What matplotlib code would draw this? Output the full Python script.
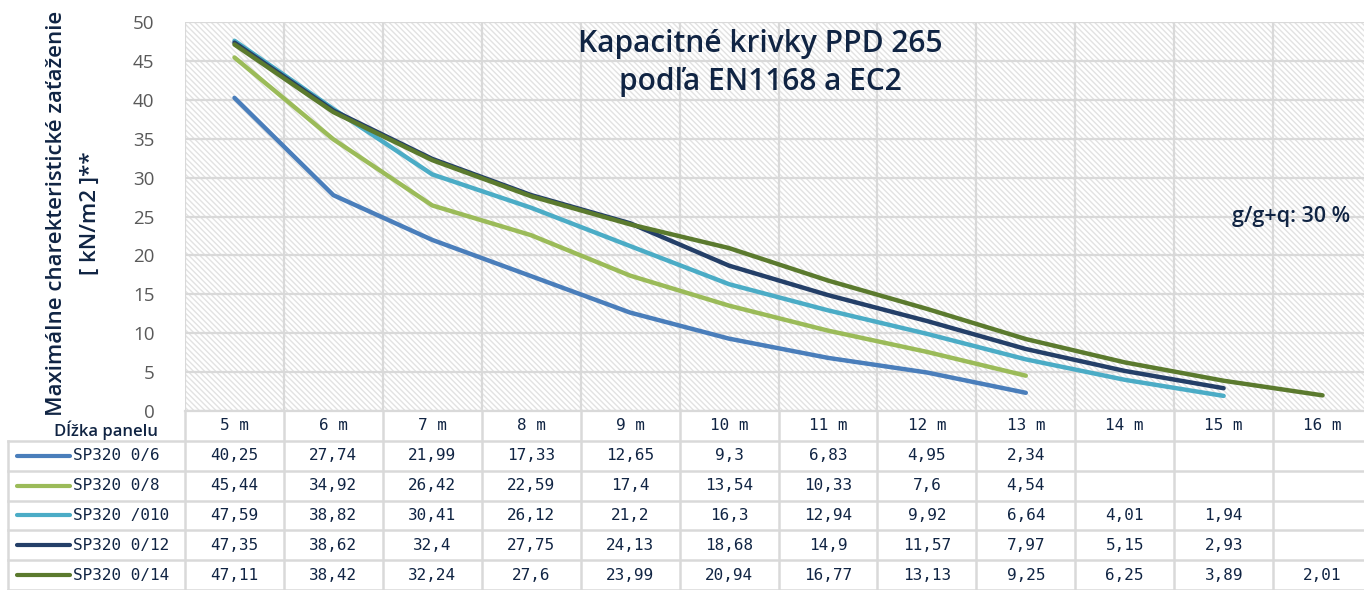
import matplotlib.pyplot as plt
from matplotlib.patches import Rectangle
import numpy as np

# data
lengths = ['5 m', '6 m', '7 m', '8 m', '9 m', '10 m', '11 m', '12 m', '13 m', '14 m', '15 m', '16 m']
names = ['SP320 0/6', 'SP320 0/8', 'SP320 /010', 'SP320 0/12', 'SP320 0/14']
sp_06 = [40.25, 27.74, 21.99, 17.33, 12.65, 9.3, 6.83, 4.95, 2.34]
sp_08 = [45.44, 34.92, 26.42, 22.59, 17.4, 13.54, 10.33, 7.6, 4.54]
sp_010 = [47.59, 38.82, 30.41, 26.12, 21.2, 16.3, 12.94, 9.92, 6.64, 4.01, 1.94]
sp_012 = [47.35, 38.62, 32.4, 27.75, 24.13, 18.68, 14.9, 11.57, 7.97, 5.15, 2.93]
sp_014 = [47.11, 38.42, 32.24, 27.6, 23.99, 20.94, 16.77, 13.13, 9.25, 6.25, 3.89, 2.01]
series = [sp_06, sp_08, sp_010, sp_012, sp_014]
colors = ['#4a7ebb', '#9bbb59', '#4bacc6', '#243f68', '#5b7a2e']

navy = '#102443'
grid_c = '#d9d9d9'

plt.rcParams['hatch.linewidth'] = 1.0

W, H = 1364, 590
fig = plt.figure(figsize=(W / 100, H / 100), dpi=100)

# plot area in pixels
x0, x1, ytop, ybot = 185, 1372, 22, 411
colw = (x1 - x0) / len(lengths)

ax = fig.add_axes([x0 / W, (H - ybot) / H, (x1 - x0) / W, (ybot - ytop) / H])
ax.add_patch(Rectangle((0, 0), 1, 1, transform=ax.transAxes, facecolor='white',
                       edgecolor='#e2e2e2', linewidth=0, hatch='\\' * 6, zorder=0.1))

for vals, c in zip(series, colors):
    ax.plot(range(len(vals)), vals, color=c, lw=3.2, solid_joinstyle='round',
            solid_capstyle='round', zorder=3)

ax.set_xlim(-0.5, len(lengths) - 0.5)
ax.set_ylim(0, 50)
ax.set_yticks(np.arange(0, 51, 5))
ax.set_xticks(np.arange(-0.5, len(lengths), 1))
ax.set_xticklabels([])
ax.grid(True, color=grid_c, lw=1.6, zorder=0.5)
ax.set_axisbelow(True)
ax.tick_params(axis='both', length=0)
ax.tick_params(axis='y', labelsize=13.5, labelcolor='#595959', pad=22)
for lab in ax.get_yticklabels():
    lab.set_fontfamily('Open Sans')
for s in ['top', 'right', 'left']:
    ax.spines[s].set_visible(False)
ax.spines['bottom'].set_color(grid_c)
ax.spines['bottom'].set_linewidth(1.6)

ax.text(0.485, 0.895, 'Kapacitné krivky PPD 265\npodľa EN1168 a EC2', transform=ax.transAxes,
        ha='center', va='center', fontsize=21.5, color=navy, family='Open Sans',
        linespacing=1.35, fontweight='semibold')
ax.text(0.932, 0.5, 'g/g+q: 30 %', transform=ax.transAxes, ha='center', va='center',
        fontsize=15.5, color=navy, family='Open Sans', fontweight='semibold')

fig.text(57 / W, 1 - 213 / H, 'Maximálne charekteristické zaťaženie', rotation=90,
         ha='center', va='center', fontsize=16, color=navy, family='Open Sans',
         fontweight='semibold')
fig.text(90 / W, 1 - 213 / H, '[ kN/m2 ]**', rotation=90,
         ha='center', va='center', fontsize=16, color=navy, family='Open Sans',
         fontweight='semibold')

# data table under the plot
tx0 = 8
tab = fig.add_axes([tx0 / W, 0, (x1 - tx0) / W, (H - ybot) / H])
left = -0.5 - (x0 - tx0) / colw
tab.set_xlim(left, len(lengths) - 0.5)
tab.set_ylim(6, 0)
tab.axis('off')


def px(p):
    return -0.5 + (p - x0) / colw


lw_t = 1.8
for k in range(len(lengths) + 1):
    tab.plot([k - 0.5, k - 0.5], [0, 6], color=grid_c, lw=lw_t, clip_on=False)
tab.plot([left, left], [1, 6], color=grid_c, lw=lw_t, clip_on=False)
for r in range(1, 7):
    tab.plot([left, len(lengths) - 0.5], [r, r], color=grid_c, lw=lw_t, clip_on=False)

tab.text(px(106), 0.64, 'Dĺžka panelu', ha='center', va='center', fontsize=12,
         color=navy, family='Open Sans', fontweight='semibold')
for i, lab in enumerate(lengths):
    tab.text(i, 0.5, lab, ha='center', va='center', fontsize=11.5, color=navy,
             family='DejaVu Sans Mono')

for r, (name, vals, c) in enumerate(zip(names, series, colors)):
    y = r + 1.5
    tab.plot([px(17), px(70)], [y, y], color=c, lw=3, solid_capstyle='round')
    tab.text(px(73), y, name, ha='left', va='center', fontsize=11.5, color=navy,
             family='DejaVu Sans Mono')
    for i, v in enumerate(vals):
        tab.text(i, y, f'{v:g}'.replace('.', ','), ha='center', va='center',
                 fontsize=11.5, color=navy, family='DejaVu Sans Mono')

fig.savefig('out.png', dpi=100)
